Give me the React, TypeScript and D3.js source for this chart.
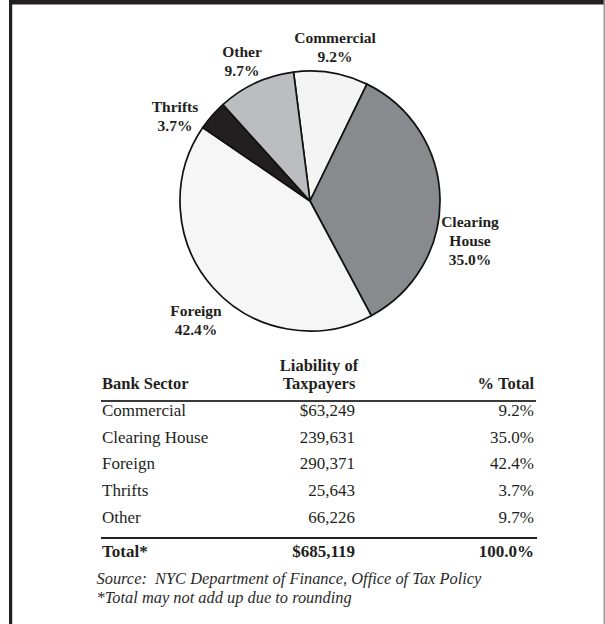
import React from "react";
import * as d3 from "d3";

const sectors = ["Commercial", "Clearing House", "Foreign", "Thrifts", "Other"];
const liability = [63249, 239631, 290371, 25643, 66226];
const liabilityLabels = ["$63,249", "239,631", "290,371", "25,643", "66,226"];
const percentLabels = ["9.2%", "35.0%", "42.4%", "3.7%", "9.7%"];
const pieLabelLines = [
  ["Commercial", "9.2%"],
  ["Other", "9.7%"],
  ["Thrifts", "3.7%"],
  ["Clearing", "House", "35.0%"],
  ["Foreign", "42.4%"],
];
const sliceColors = ["#f4f4f4", "#898a8d", "#f6f6f6", "#231f20", "#bcbdc0"];
const totalLabel = "$685,119";
const totalPct = "100.0%";

const W = 605;
const H = 624;
const cx = 310;
const cy = 201;
const R = 130;
const FONT = "'Liberation Serif', 'Times New Roman', serif";

// label anchor positions for pie labels (center x, first baseline y)
const labelPos: Record<string, [number, number]> = {
  Commercial: [335, 43],
  Other: [242, 57],
  Thrifts: [175, 112],
  Clearing: [470, 227],
  Foreign: [196, 316],
};

export default function App() {
  const pie = d3
    .pie<number>()
    .sort(null)
    .value((d) => d)
    .startAngle(-0.127)
    .endAngle(-0.127 + 2 * Math.PI);
  const arcs = pie(liability);
  const arcGen = d3.arc<d3.PieArcDatum<number>>().innerRadius(0).outerRadius(R);

  const rowY = d3
    .scaleLinear()
    .domain([0, 1])
    .range([416, 442.7]);

  const colLeft = 102;
  const colMid = 355;
  const colRight = 534;

  return (
    <svg
      width={W}
      height={H}
      style={{ position: "absolute", left: 0, top: 0, background: "#fff" }}
      fontFamily={FONT}
    >
      <rect x={0} y={0} width={W} height={H} fill="#fff" />
      {/* frame */}
      <rect x={9} y={0} width={W - 9} height={4.5} fill="#231f20" />
      <rect x={9} y={0} width={3.2} height={H} fill="#231f20" />
      <rect x={603.5} y={0} width={1.5} height={H} fill="#9a9a9a" />

      {/* pie */}
      <g transform={`translate(${cx},${cy})`}>
        {arcs.map((a, i) => (
          <path
            key={sectors[i]}
            d={arcGen(a) || ""}
            fill={sliceColors[i]}
            stroke="#111"
            strokeWidth={1.7}
            strokeLinejoin="round"
          />
        ))}
      </g>

      {/* pie labels */}
      {pieLabelLines.map((lines) => {
        const [x, y] = labelPos[lines[0]];
        return (
          <text
            key={lines[0]}
            x={x}
            y={y}
            textAnchor="middle"
            fontWeight="bold"
            fontSize={15.5}
            fill="#231f20"
          >
            {lines.map((l, j) => (
              <tspan key={j} x={x} dy={j === 0 ? 0 : 19}>
                {l}
              </tspan>
            ))}
          </text>
        );
      })}

      {/* table header */}
      <g fontWeight="bold" fontSize={16.5} fill="#231f20">
        <text x={colLeft} y={389}>
          Bank Sector
        </text>
        <text x={319} y={371} textAnchor="middle">
          Liability of
        </text>
        <text x={319} y={389} textAnchor="middle">
          Taxpayers
        </text>
        <text x={colRight} y={389} textAnchor="end">
          % Total
        </text>
      </g>
      <line x1={101} x2={536} y1={401} y2={401} stroke="#3a3a3a" strokeWidth={2} />

      {/* table rows */}
      <g fontSize={17} fill="#231f20">
        {sectors.map((s, i) => (
          <g key={s}>
            <text x={colLeft} y={rowY(i)}>
              {s}
            </text>
            <text x={colMid} y={rowY(i)} textAnchor="end">
              {liabilityLabels[i]}
            </text>
            <text x={colRight} y={rowY(i)} textAnchor="end">
              {percentLabels[i]}
            </text>
          </g>
        ))}
      </g>
      <line x1={101} x2={537} y1={538} y2={538} stroke="#231f20" strokeWidth={2} />
      <g fontWeight="bold" fontSize={17} fill="#231f20">
        <text x={colLeft} y={556.5}>
          Total*
        </text>
        <text x={colMid} y={556.5} textAnchor="end">
          {totalLabel}
        </text>
        <text x={colRight} y={556.5} textAnchor="end">
          {totalPct}
        </text>
      </g>

      {/* notes */}
      <g fontStyle="italic" fontSize={16.4} fill="#2a2a2a">
        <text x={96.5} y={584} style={{ whiteSpace: "pre" }}>
          {"Source:  NYC Department of Finance, Office of Tax Policy"}
        </text>
        <text x={96.5} y={603}>
          *Total may not add up due to rounding
        </text>
      </g>
    </svg>
  );
}
